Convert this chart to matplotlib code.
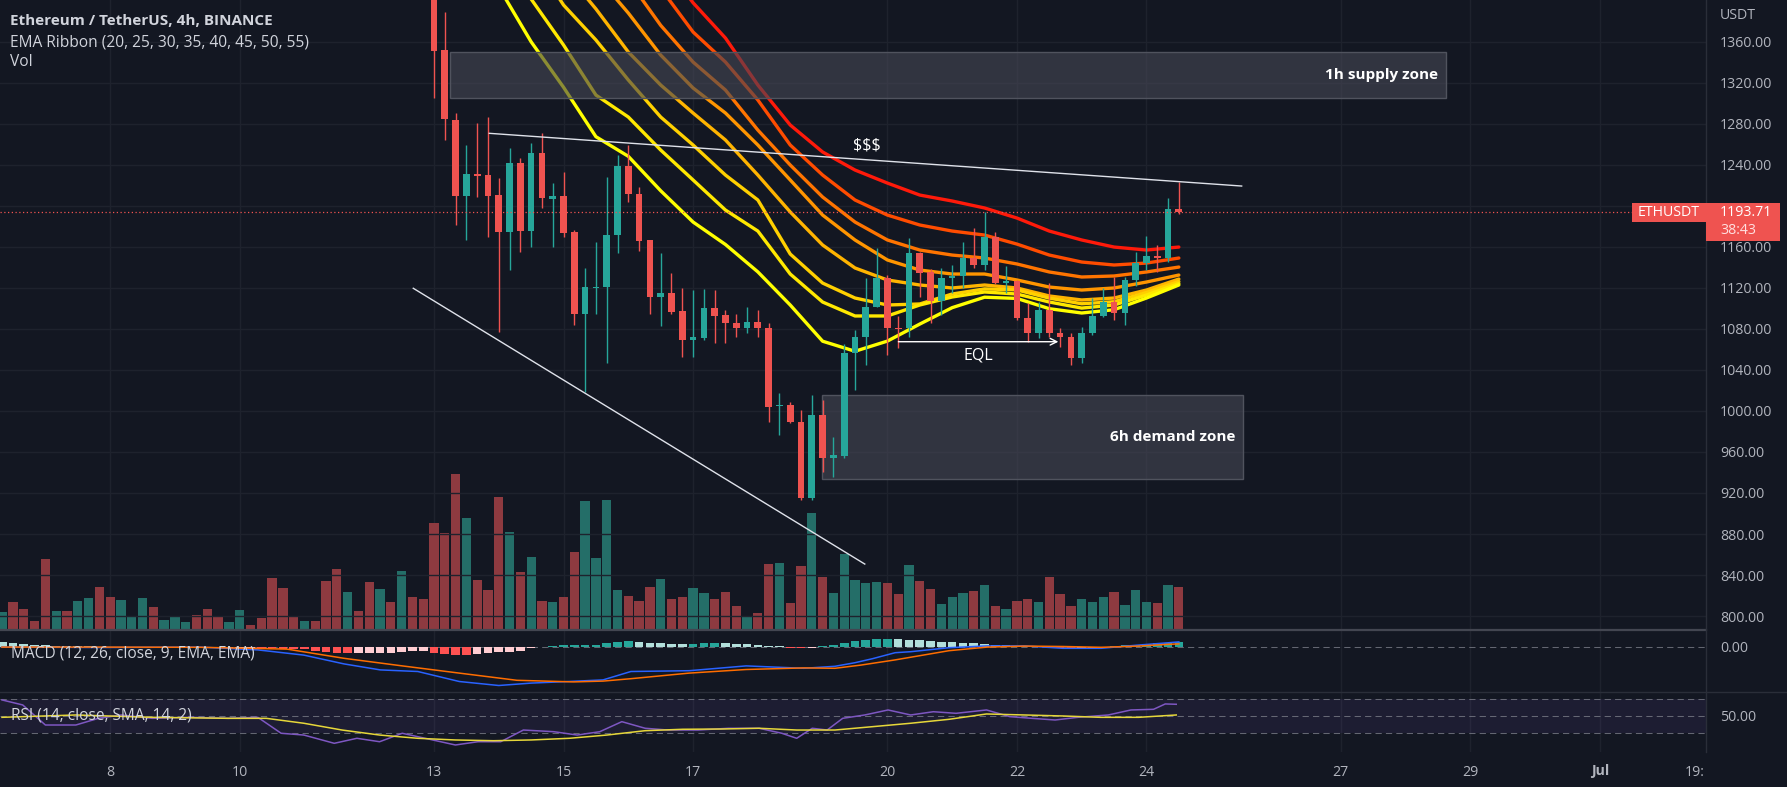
import matplotlib
matplotlib.use('Agg')
import matplotlib.pyplot as plt
from matplotlib.patches import Rectangle
from matplotlib.lines import Line2D
import numpy as np

plt.rcParams['font.family'] = ['Open Sans', 'DejaVu Sans']

W, H, DPI = 1787, 787, 100
BG = '#131722'
GRID = '#1e222d'
TXT = '#b2b5be'
LEG = '#d1d4dc'
UP, DN = '#26a69a', '#ef5350'
VUP, VDN = '#246e68', '#8e3a40'

# ---------------- data ----------------
start_day = 13.0            # 13 June 00:00, x axis in "day of June"
bar_days = 4 / 24           # 4h candles

opens = [1432, 1351.9, 1283.7, 1209.5, 1231, 1230, 1210.5, 1174.7, 1241.4, 1175.7,
         1251.2, 1206.9, 1209.5, 1174.7, 1094.5, 1120, 1120.5, 1171.5, 1238.8, 1211.5,
         1166.7, 1111.4, 1114.7, 1097.4, 1069.1, 1071.4, 1100, 1093.5, 1086, 1080.5,
         1087, 1080.5, 1004.5, 1005.8, 989.5, 914.8, 996, 953.8, 956, 1056.2,
         1072.4, 1101.6, 1129.3, 1081, 1080.5, 1153.7, 1135.7, 1107.5, 1129.3, 1131.2,
         1148.8, 1142.3, 1169.3, 1125, 1126.6, 1090.3, 1075.7, 1098.4, 1075.7, 1071.8,
         1051.3, 1076.3, 1092.5, 1106.5, 1095.2, 1127.6, 1144.5, 1151, 1149.4, 1196.6]
highs = [1446, 1389.3, 1290.2, 1259.3, 1281, 1286.3, 1226.8, 1256.1, 1246.3, 1261,
         1270.7, 1222, 1233.2, 1176, 1139, 1165, 1228.4, 1249.5, 1259.3, 1218.6,
         1167, 1153.7, 1134.8, 1119.6, 1118, 1118.6, 1118, 1098, 1095, 1101.6,
         1098, 1085.4, 1017.8, 1009, 1001, 1015.5, 1010.6, 974.9, 1065, 1079,
         1129.3, 1158.6, 1132.5, 1092.5, 1168.3, 1155.2, 1138, 1139, 1142.3, 1165,
         1178, 1194.2, 1174.7, 1141, 1128, 1105.5, 1106.5, 1125, 1080.5, 1075.7,
         1082.1, 1109.8, 1119.6, 1130.3, 1130.9, 1155.2, 1170.6, 1161.8, 1207.3, 1223.5]
lows = [1305, 1264.2, 1181.3, 1166.7, 1209, 1169.3, 1077.2, 1137.4, 1155.2, 1160.1,
        1197.6, 1160, 1169.9, 1083.8, 1018.7, 1095, 1046.4, 1153.7, 1204, 1156.2,
        1095, 1082.8, 1095, 1052.9, 1052.9, 1069, 1066, 1066, 1072.4, 1075.7,
        1072.4, 989.5, 976.5, 988, 913, 913, 940.7, 935.9, 953.8, 1020.4,
        1044.8, 1101, 1054.5, 1061, 1072.4, 1111.4, 1085.4, 1093.5, 1114.7, 1119.6,
        1139, 1137.4, 1123.7, 1114.7, 1088.7, 1067.5, 1070.8, 1072.4, 1062.6, 1044.8,
        1046.4, 1074, 1091.3, 1088.7, 1083.8, 1121.8, 1137.4, 1135.7, 1145.5, 1191.6]
closes = [1351.2, 1284.3, 1209.5, 1231.0, 1229, 1209.5, 1174.7, 1241.4, 1175.7, 1251.2,
          1207.3, 1209.5, 1173.2, 1094.5, 1120.5, 1120.5, 1171.5, 1238.8, 1211.5, 1166,
          1111.4, 1114.7, 1096.7, 1069.1, 1071.8, 1100, 1092.8, 1085.4, 1080.5, 1087,
          1080.5, 1004, 1005.5, 989.5, 914.8, 996, 953.8, 957, 1056.2, 1072.4,
          1101.6, 1129.3, 1080.5, 1080, 1153.7, 1134.8, 1107.5, 1129.3, 1131.6, 1148.8,
          1142.3, 1169.3, 1125, 1126.6, 1090.3, 1075.7, 1098.4, 1075.7, 1071.8, 1051.3,
          1076.3, 1092.5, 1106.5, 1095.2, 1127.6, 1144.5, 1151, 1149.4, 1196.6, 1193.71]

# volume (thousand ETH) of the 40 bars before 13 June (candles above the visible range)
vol_pre = [72, 112, 84, 36, 284, 76, 76, 116, 128, 172, 132, 120, 56, 128, 92, 40, 52, 32, 60, 84,
           56, 32, 80, 20, 48, 208, 168, 56, 36, 36, 196, 244, 152, 76, 192, 164, 112, 236, 132, 124]
vol_pre_up = [1, 0, 0, 0, 0, 1, 0, 1, 1, 0, 0, 1, 1, 1, 0, 1, 1, 1, 0, 0,
              0, 1, 1, 0, 0, 0, 0, 0, 1, 0, 0, 0, 1, 0, 0, 1, 0, 1, 0, 0]
vol_main = [428, 388, 624, 448, 200, 160, 532, 392, 232, 292, 116, 112, 132, 312, 516, 288,
            520, 160, 136, 116, 172, 204, 124, 132, 168, 148, 124, 152, 96, 56, 68, 264, 268, 108,
            256, 468, 212, 148, 304, 200, 188, 192, 188, 144, 260, 196, 164, 104, 132, 148, 156,
            180, 96, 84, 116, 124, 112, 212, 144, 96, 124, 112, 132, 152, 100, 160, 112, 108, 180, 172]

# EMA ribbon, read at 12h steps (None = far above the visible range)
ema_days = [13.5, 14.0, 14.5, 15.0, 15.5, 16.0, 16.5, 17.0, 17.5, 18.0, 18.5, 19.0,
            19.5, 20.0, 20.5, 21.0, 21.5, 22.0, 22.5, 23.0, 23.5, 24.0, 24.5]
ema20 = [1478, 1413.2, 1359.9, 1315.6, 1267.4, 1248.3, 1214.7, 1184.2, 1162.3, 1135.6, 1103.3, 1068.0,
         1058.2, 1068.1, 1084.7, 1100.7, 1110.9, 1109.7, 1099.7, 1095.5, 1098.7, 1110.1, 1122.8]
ema25 = [None, 1439.7, 1401.6, 1356.8, 1308, 1286.6, 1254.4, 1225.2, 1195.9, 1175.4, 1133.5, 1106.2,
         1092.6, 1092.6, 1103.3, 1111.1, 1116, 1114, 1106.2, 1100.3, 1103.3, 1113.0, 1124.2]
ema30 = [None, None, 1444.5, 1395.8, 1361.7, 1322.7, 1286.6, 1259.3, 1230.0, 1205.7, 1153.0, 1124.7,
         1110.1, 1103.3, 1104.3, 1114, 1119, 1118, 1110, 1104.5, 1106.5, 1115.5, 1126.2]
ema35 = [None, None, None, 1430, 1392, 1350, 1317.8, 1290.5, 1264.2, 1230.0, 1194.0, 1161.8,
         1139.4, 1127.7, 1122.8, 1119.9, 1122.8, 1119.9, 1112.1, 1108.2, 1110.1, 1117.9, 1128.6]
ema40 = [None, None, None, None, 1425, 1388, 1347.0, 1314.9, 1290.5, 1259.3, 1225.2, 1191.0,
         1166.7, 1147.2, 1137.4, 1133.5, 1133.5, 1127.7, 1120.8, 1117.9, 1119.9, 1125.7, 1132.5]
ema45 = [None, None, None, None, None, 1420, 1376, 1340.2, 1312.9, 1273.9, 1239.8, 1208.6,
         1184.2, 1166.7, 1156.9, 1152.0, 1149.1, 1143.3, 1135.5, 1130.6, 1131.6, 1135.5, 1140.3]
ema50 = [None, None, None, None, None, None, 1412, 1369.5, 1340.2, 1303.2, 1259.3, 1230.0,
         1205.7, 1191.0, 1181.3, 1175.4, 1171.5, 1162.7, 1152.0, 1145.2, 1142.3, 1144.2, 1149.1]
ema55 = [None, None, None, None, None, None, 1440, 1398, 1363.6, 1317.8, 1278.8, 1252.5,
         1234.9, 1222.2, 1210.5, 1204.7, 1197.9, 1188.1, 1175.4, 1166.7, 1159.8, 1156.9, 1159.8]
ema_colors = ['#ffff00', '#ffe800', '#ffd000', '#ffb400', '#ff9500', '#ff7400', '#ff4c00', '#ff1a0a']

# MACD (12,26,9)
macd_days = [6.33, 7.84, 9.39, 10.28, 10.99, 11.61, 12.17, 12.75, 13.39, 14.0, 14.5, 15.08, 15.61,
             16.04, 16.94, 17.82, 18.71, 19.19, 19.5, 19.77, 20.12, 20.36, 20.95, 21.54, 22.12,
             22.71, 23.30, 23.87, 24.35, 24.5]
macd_vals = [-1, -2, -1, -8, -21, -43, -58, -62, -87, -97, -91, -87, -83,
             -62, -60, -48, -54, -49, -40, -30, -15, -12.5, -2.5, 2, 2,
             -4, -4, 4, 10, 12]
sig_days = [6.33, 7.84, 9.39, 10.73, 11.61, 12.51, 13.39, 14.28, 15.16, 15.61, 16.04, 16.94, 17.82,
            18.71, 19.19, 19.59, 20.12, 20.95, 21.54, 22.12, 22.71, 23.30, 23.87, 24.35, 24.5]
sig_vals = [-1, -1, -1.5, -6, -29, -48, -66, -84, -88, -86, -80, -66, -57,
            -53, -54, -46, -33, -10, -1, 1.5, 0.5, -1.5, 1.5, 6, 7]
hist_vals = [12.5, 10, 7.5, 5, 3.8, 2.5, 2, 1.2, 0.8, 0.5, 0, -0.8, -1.2, -0.8, -0.5, -0.2, -0.8, -1.2,
             -2, -3, -3.8, -3, -2.5, -2, -2.5, -3.8, -5, -5.8,
             -6.8, -10, -12.5, -15.8, -16.8, -16.2, -15.8, -15.2, -14.8, -12.5, -10.8, -10.5,
             -16.8, -19.2, -19.5, -19.8, -19.2, -16.8, -12.5, -12, -10, -4.2, -1.8,
             3, 3.8, 4.2, 4.5, 5.5, 8.8, 12.5, 13.2, 10.8, 9.5, 8.5, 7.5, 7, 7.5, 8.2, 8.8, 8.2, 7.5,
             6.5, 5, 3, 0.8, -2, -3.5, -2.2, 1.2, 5, 10, 13.8, 16.2, 18.2, 19.5, 18.8, 18, 16.2, 14.5,
             12.5, 11.2, 10, 8.2, 7.5, 5.5, 4.2, 2.5, 1.2, -0.8, -2.5, -3.8, -4.2, -3.8, -2.5, -1.2,
             1.2, 3.2, 5.5, 7.5, 8.8, 10.5, 12]

# RSI(14) and its SMA(14)
rsi_days = [6.33, 6.65, 7.0, 7.47, 7.82, 8.17, 8.65, 9.23, 9.82, 10.28, 10.64, 10.99, 11.46, 11.81,
            12.16, 12.51, 12.98, 13.33, 13.68, 14.03, 14.38, 14.85, 15.21, 15.56, 15.90, 16.26,
            16.61, 17.08, 17.55, 18.02, 18.37, 18.60, 18.84, 19.07, 19.31, 19.65, 20.01, 20.36,
            20.71, 21.06, 21.53, 21.89, 22.23, 22.59, 22.94, 23.41, 23.76, 24.11, 24.29, 24.46]
rsi_vals = [69.2, 63.2, 39.2, 39.2, 47.2, 51.2, 47.2, 48.4, 47.2, 48.4, 29.3, 27.2, 17.3, 23.3,
            19.2, 29.3, 21.3, 15.3, 19.2, 19.2, 33.2, 31.2, 27.2, 31.2, 43.2, 35.3,
            33.2, 33.2, 35.3, 35.3, 29.3, 23.3, 35.3, 33.2, 47.2, 51.2, 57.2, 51.2,
            55.1, 53.2, 57.2, 49.2, 47.2, 45.2, 48.4, 51.2, 57.2, 58, 64.4, 64]
rsi_ma_days = [6.33, 7.47, 8.65, 9.82, 10.41, 10.99, 11.58, 12.16, 12.75, 13.33, 13.92, 14.5, 15.09,
               15.67, 16.26, 16.84, 17.43, 18.02, 18.60, 19.19, 19.77, 20.36, 20.95, 21.53, 22.12,
               22.71, 23.29, 23.88, 24.46]
rsi_ma_vals = [48.4, 51.2, 48.4, 47.2, 47.2, 41.3, 33.2, 27.2, 23.3, 21.3, 20.4, 21.3, 23.3,
               27.2, 32.4, 34.1, 34.4, 35.3, 33.2, 33.2, 37.2, 41.3, 46, 52.4, 51.2,
               50, 48.4, 48.4, 51.2]

# drawings
supply_zone = (13.25, 28.62, 1304.8, 1350.2)   # day from, day to, price low, price high
demand_zone = (18.99, 25.49, 933.3, 1015.5)
upper_line = ((13.854, 1270.7), (25.47, 1219.3))
lower_line = ((12.68, 1119.6), (19.651, 850.7))
eql_arrow = ((20.17, 1067.5), (22.64, 1067.5))

price_ticks = list(range(800, 1361, 40))
date_ticks = [8, 10, 13, 15, 17, 20, 22, 24, 27, 29, 31]
date_labels = ['8', '10', '13', '15', '17', '20', '22', '24', '27', '29', 'Jul']

X0, X1 = 6.2993, 32.639
Y0, Y1 = 786.4, 1400.7

# ---------------- figure ----------------
fig = plt.figure(figsize=(W / DPI, H / DPI), dpi=DPI)
fig.patch.set_facecolor(BG)


def rect(top, bottom, left=0, right=1706):
    return [left / W, 1 - bottom / H, (right - left) / W, (bottom - top) / H]


def P(x, y):
    return x / W, 1 - y / H


ax_vol = fig.add_axes(rect(0, 630))
ax = fig.add_axes(rect(0, 630))
ax_macd = fig.add_axes(rect(630, 692))
ax_rsi = fig.add_axes(rect(692, 752))

for a in (ax_vol, ax, ax_macd, ax_rsi):
    a.set_xlim(X0, X1)
    for s in a.spines.values():
        s.set_visible(False)
    a.set_facecolor(BG)
ax.patch.set_visible(False)
ax_vol.set_xticks([])
ax_vol.set_yticks([])

n = len(opens)
xs = np.array([start_day + i * bar_days for i in range(n)])
n_pre = len(vol_pre)
xs_all = np.array([start_day + (i - n_pre) * bar_days for i in range(n_pre + n)])

# vertical grid
for a in (ax_vol, ax_macd, ax_rsi):
    for d in date_ticks:
        a.axvline(d, color=GRID, lw=1, zorder=0)

# volume
vols = vol_pre + vol_main
ups = vol_pre_up + [1 if c >= o else 0 for o, c in zip(opens, closes)]
ax_vol.bar(xs_all, vols, width=bar_days * 0.86, color=[VUP if u else VDN for u in ups], zorder=2)
ax_vol.set_ylim(0, 2520)

# price pane
ax.set_ylim(Y0, Y1)
for p in price_ticks:
    ax.axhline(p, color=GRID, lw=1, zorder=0)

ema_all = [ema20, ema25, ema30, ema35, ema40, ema45, ema50, ema55]
for vals, col in zip(ema_all[::-1], ema_colors[::-1]):
    d = [dd for dd, v in zip(ema_days, vals) if v is not None]
    v = [vv for vv in vals if vv is not None]
    ax.plot(d, v, color=col, lw=2.4, zorder=2, solid_capstyle='round', solid_joinstyle='round')

for z in (supply_zone, demand_zone):
    ax.add_patch(Rectangle((z[0], z[2]), z[1] - z[0], z[3] - z[2], facecolor=(0.27, 0.28, 0.33, 0.62),
                           edgecolor='#50535e', lw=1, zorder=3))

cols = [UP if c >= o else DN for o, c in zip(opens, closes)]
ax.vlines(xs, lows, highs, colors=cols, lw=1, zorder=4)
bottoms = [min(o, c) for o, c in zip(opens, closes)]
heights = [max(abs(c - o), 1.0) for o, c in zip(opens, closes)]
ax.bar(xs, heights, bottom=bottoms, width=bar_days * 0.62, color=cols, zorder=5)

# drawings
lc = '#dfe2ea'
ax.plot([upper_line[0][0], upper_line[1][0]], [upper_line[0][1], upper_line[1][1]], color=lc, lw=1.0, zorder=6)
ax.plot([lower_line[0][0], lower_line[1][0]], [lower_line[0][1], lower_line[1][1]], color=lc, lw=1.0, zorder=6)
ax.annotate('', xy=eql_arrow[1], xytext=eql_arrow[0],
            arrowprops=dict(arrowstyle='->', color='white', lw=1.0, mutation_scale=12, shrinkA=0, shrinkB=0),
            zorder=6)
ax.text(19.68, 1259.3, '$$$', color='white', fontsize=11.5, ha='center', va='center', zorder=7)
ax.text(21.40, 1053.9, 'EQL', color='white', fontsize=11.5, ha='center', va='center', zorder=7)
ax.text(supply_zone[1] - 0.12, (supply_zone[2] + supply_zone[3]) / 2, '1h supply zone', color='white',
        fontsize=11, fontweight='bold', ha='right', va='center', zorder=7)
ax.text(demand_zone[1] - 0.12, (demand_zone[2] + demand_zone[3]) / 2, '6h demand zone', color='white',
        fontsize=11, fontweight='bold', ha='right', va='center', zorder=7)

# last price line
last = closes[-1]
ax.axhline(last, color=DN, lw=0.9, ls=(0, (1, 2)), zorder=6)

# price axis (the 1200 label sits under the last-price tag)
ax.yaxis.tick_right()
ax.set_yticks(price_ticks)
ax.set_yticklabels(['' if abs(p - last) < 20 else f'{p:.2f}' for p in price_ticks])
ax.tick_params(axis='y', length=0, pad=10, labelcolor=TXT, labelsize=10.2)
ax.set_xticks([])

# MACD pane
ax_macd.set_ylim(-113.25, 41.75)
ax_macd.axhline(0, color='#787b86', lw=0.75, ls=(0, (6, 4)), alpha=0.8, zorder=1)
hcols = []
prev = None
for h in hist_vals:
    pv = h + 1 if prev is None else prev
    if h >= 0:
        hcols.append('#26a69a' if h > pv else '#b2dfdb')
    else:
        hcols.append('#ffcdd2' if h > pv else '#ff5252')
    prev = h
ax_macd.bar(xs_all, hist_vals, width=bar_days * 0.8, color=hcols, zorder=2)
ax_macd.plot(macd_days, macd_vals, color='#2962ff', lw=1.1, zorder=3)
ax_macd.plot(sig_days, sig_vals, color='#ff6d00', lw=1.1, zorder=3)
ax_macd.yaxis.tick_right()
ax_macd.set_yticks([0])
ax_macd.set_yticklabels(['0.00'])
ax_macd.tick_params(axis='y', length=0, pad=10, labelcolor=TXT, labelsize=10.2)
ax_macd.set_xticks([])

# RSI pane
ax_rsi.set_ylim(6.9, 78.7)
ax_rsi.axhspan(30, 70, color=(126 / 255, 87 / 255, 194 / 255), alpha=0.1, lw=0, zorder=0)
for lv in (70, 50, 30):
    ax_rsi.axhline(lv, color='#787b86', lw=0.75, ls=(0, (6, 4)), alpha=0.8, zorder=1)
ax_rsi.plot(rsi_days, rsi_vals, color='#7e57c2', lw=1.1, zorder=3)
ax_rsi.plot(rsi_ma_days, rsi_ma_vals, color='#e6d73a', lw=1.1, zorder=3)
ax_rsi.yaxis.tick_right()
ax_rsi.set_yticks([50])
ax_rsi.set_yticklabels(['50.00'])
ax_rsi.tick_params(axis='y', length=0, pad=10, labelcolor=TXT, labelsize=10.2)
ax_rsi.set_xticks(date_ticks)
ax_rsi.set_xticklabels(date_labels)
ax_rsi.tick_params(axis='x', length=0, pad=9, labelcolor=TXT, labelsize=10.2)
ax_rsi.get_xticklabels()[-1].set_fontweight('bold')

# separators
fig.add_artist(Line2D([0, 1706 / W], [1 - 630 / H] * 2, color='#434651', lw=1.6))
fig.add_artist(Line2D([0, 1], [1 - 692 / H] * 2, color='#2a2e39', lw=1))
fig.add_artist(Line2D([1706 / W] * 2, [1 - 752 / H, 1], color='#2a2e39', lw=1))

# labels
fig.text(*P(10, 20.7), 'Ethereum / TetherUS, 4h, BINANCE', color=LEG, fontsize=11, fontweight='bold', va='center')
fig.text(*P(10, 42.3), 'EMA Ribbon (20, 25, 30, 35, 40, 45, 50, 55)', color=LEG, fontsize=11.2, va='center')
fig.text(*P(10, 62.3), 'Vol', color=LEG, fontsize=11.2, va='center')
fig.text(*P(11, 654), 'MACD (12, 26, close, 9, EMA, EMA)', color=LEG, fontsize=11.2, va='center')
fig.text(*P(11, 715), 'RSI (14, close, SMA, 14, 2)', color=LEG, fontsize=11.2, va='center')
fig.text(*P(1720, 15.7), 'USDT', color=TXT, fontsize=10.2, va='center')
fig.text(*P(1705, 773), '19:', color=TXT, fontsize=10.2, va='center', ha='right')

# last price labels
fig.canvas.draw()
ypx = H - ax.transData.transform((X0, last))[1]
fig.patches.append(Rectangle(P(1631.7, ypx + 9.3), (1706 - 1631.7) / W, 18.6 / H,
                             transform=fig.transFigure, facecolor=DN, edgecolor='none', zorder=5))
fig.patches.append(Rectangle(P(1706, ypx + 28.3), 74 / W, 37.6 / H,
                             transform=fig.transFigure, facecolor=DN, edgecolor='none', zorder=5))
fig.text(*P(1668.8, ypx), 'ETHUSDT', color='white', fontsize=10.2, ha='center', va='center', zorder=6)
fig.text(*P(1720, ypx), f'{last:.2f}', color='white', fontsize=10.2, ha='left', va='center', zorder=6)
fig.text(*P(1720, ypx + 18.5), '38:43', color='#ffe0e0', fontsize=10.2, ha='left', va='center', zorder=6)

fig.savefig('out.png', dpi=DPI, facecolor=BG)
